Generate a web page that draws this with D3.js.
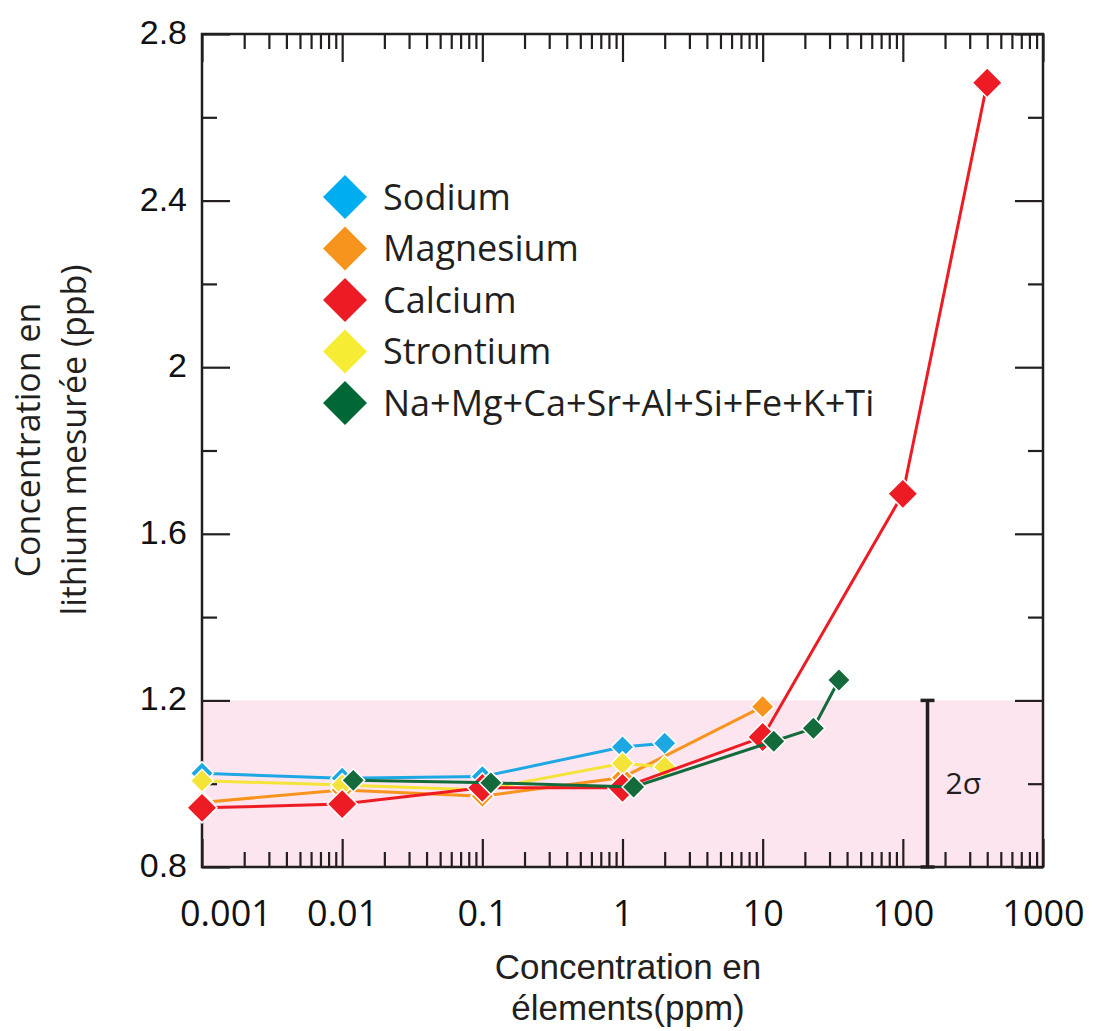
<!DOCTYPE html>
<html><head><meta charset="utf-8">
<script src="https://cdn.jsdelivr.net/npm/d3@7"></script>
<style>body{margin:0;background:#fff}</style></head>
<body><svg id="c" width="1110" height="1031"></svg>
<script>
// ---- data ----
const legendOrder = ["Sodium","Magnesium","Calcium","Strontium","Na+Mg+Ca+Sr+Al+Si+Fe+K+Ti"];
const drawOrder   = ["Sodium","Magnesium","Strontium","Calcium","Na+Mg+Ca+Sr+Al+Si+Fe+K+Ti"];
const sodiumX = [0.001, 0.01, 0.1, 1, 2];
const sodiumY = [1.025, 1.013, 1.017, 1.088, 1.097];
const magnesiumX = [0.001, 0.01, 0.1, 1, 10];
const magnesiumY = [0.955, 0.985, 0.970, 1.015, 1.185];
const calciumX = [0.001, 0.01, 0.1, 1, 10, 100, 400];
const calciumY = [0.942, 0.951, 0.990, 0.990, 1.112, 1.696, 2.683];
const strontiumX = [0.001, 0.01, 0.1, 1, 2];
const strontiumY = [1.007, 0.997, 0.985, 1.049, 1.040];
const mixX = [0.012, 0.115, 1.2, 12, 23, 35];
const mixY = [1.008, 1.002, 0.992, 1.102, 1.133, 1.249];
const colors = {"Sodium":"#1ea8e3","Magnesium":"#f7941d","Calcium":"#ed1c24","Strontium":"#f4e43a","Na+Mg+Ca+Sr+Al+Si+Fe+K+Ti":"#136a3b"};
const legendColors = {"Sodium":"#00aeef","Magnesium":"#f7941d","Calcium":"#ed1c24","Strontium":"#f5ec33","Na+Mg+Ca+Sr+Al+Si+Fe+K+Ti":"#006837"};
const seriesData = {
  "Sodium": [sodiumX, sodiumY],
  "Magnesium": [magnesiumX, magnesiumY],
  "Calcium": [calciumX, calciumY],
  "Strontium": [strontiumX, strontiumY],
  "Na+Mg+Ca+Sr+Al+Si+Fe+K+Ti": [mixX, mixY]
};
const xMajorTicks = [0.001, 0.01, 0.1, 1, 10, 100, 1000];
const xTickLabels = ["0.001","0.01","0.1","1","10","100","1000"];
const yMajorTicks = [0.8, 1.2, 1.6, 2.0, 2.4, 2.8];
const yTickLabels = ["0.8","1.2","1.6","2","2.4","2.8"];
const yMinorTicks = [1.0, 1.4, 1.8, 2.2, 2.6];
const bandRange = [0.8, 1.2];
const errorBar = {x: 150, lo: 0.8, hi: 1.2, label: "2σ"};
const xTitle = ["Concentration en", "élements(ppm)"];
const yTitle = ["Concentration en", "lithium mesurée (ppb)"];

// ---- layout ----
const L = 202, R = 1043, T = 34, B = 867;
const ink = "#231f20";
const svg = d3.select("#c");
const x = d3.scaleLog().domain([0.001, 1000]).range([L, R]);
const y = d3.scaleLinear().domain([0.8, 2.8]).range([B, T]);

const xMinorTicks = [];
for (let d = 0; d < xMajorTicks.length - 1; d++)
  for (let m = 2; m <= 9; m++) xMinorTicks.push(xMajorTicks[d] * m);

// band
svg.append("rect").attr("x", L).attr("y", y(bandRange[1]))
  .attr("width", R - L).attr("height", y(bandRange[0]) - y(bandRange[1]))
  .attr("fill", "#fce5ef");

// axes
function styleAxis(g){
  g.select(".domain").remove();
  g.selectAll(".tick line").attr("stroke", ink).attr("stroke-width", 2.2);
}
const fmtX = d => xTickLabels[xMajorTicks.indexOf(d)];
const fmtY = d => yTickLabels[yMajorTicks.findIndex(v => Math.abs(v - d) < 1e-9)];

const gxb = svg.append("g").attr("transform", `translate(0,${B})`)
  .call(d3.axisBottom(x).tickValues(xMajorTicks).tickSize(-28).tickPadding(33).tickFormat(fmtX));
styleAxis(gxb);
gxb.selectAll("text").attr("font-family","'Open Sans', sans-serif").attr("font-size",36).attr("fill","#111");
gxb.selectAll("text").each(function(){
  const b = this.getBBox();
  const abs = b.x + parseFloat(d3.select(this.parentNode).attr("transform").match(/translate\(([-\d.]+)/)[1]);
  if (abs < 180) d3.select(this).attr("dx", 180 - abs);
});
const gxbm = svg.append("g").attr("transform", `translate(0,${B})`)
  .call(d3.axisBottom(x).tickValues(xMinorTicks).tickSize(-15).tickFormat(""));
styleAxis(gxbm);
const gxt = svg.append("g").attr("transform", `translate(0,${T})`)
  .call(d3.axisTop(x).tickValues(xMajorTicks).tickSize(-28).tickFormat(""));
styleAxis(gxt);
const gxtm = svg.append("g").attr("transform", `translate(0,${T})`)
  .call(d3.axisTop(x).tickValues(xMinorTicks).tickSize(-15).tickFormat(""));
styleAxis(gxtm);

const gyl = svg.append("g").attr("transform", `translate(${L},0)`)
  .call(d3.axisLeft(y).tickValues(yMajorTicks).tickSize(-28).tickPadding(15).tickFormat(fmtY));
styleAxis(gyl);
gyl.selectAll("text").attr("font-family","'Liberation Sans', Arial, sans-serif").attr("font-size",34).attr("fill","#111").attr("dy","0.28em");
const gylm = svg.append("g").attr("transform", `translate(${L},0)`)
  .call(d3.axisLeft(y).tickValues(yMinorTicks).tickSize(-15).tickFormat(""));
styleAxis(gylm);
const gyr = svg.append("g").attr("transform", `translate(${R},0)`)
  .call(d3.axisRight(y).tickValues(yMajorTicks).tickSize(-28).tickFormat(""));
styleAxis(gyr);
const gyrm = svg.append("g").attr("transform", `translate(${R},0)`)
  .call(d3.axisRight(y).tickValues(yMinorTicks).tickSize(-15).tickFormat(""));
styleAxis(gyrm);

// frame
svg.append("rect").attr("x", L).attr("y", T).attr("width", R - L).attr("height", B - T)
  .attr("fill", "none").attr("stroke", ink).attr("stroke-width", 2.5);

// error bar
const ex = x(errorBar.x);
const eg = svg.append("g").attr("stroke", ink).attr("stroke-width", 3.5);
eg.append("line").attr("x1", ex).attr("x2", ex).attr("y1", y(errorBar.lo)).attr("y2", y(errorBar.hi));
eg.append("line").attr("x1", ex - 7).attr("x2", ex + 7).attr("y1", y(errorBar.lo)).attr("y2", y(errorBar.lo));
eg.append("line").attr("x1", ex - 7).attr("x2", ex + 7).attr("y1", y(errorBar.hi)).attr("y2", y(errorBar.hi));
svg.append("text").attr("x", ex + 18).attr("y", y((errorBar.lo + errorBar.hi) / 2) + 10)
  .attr("font-family","'Open Sans', sans-serif").attr("font-size", 30).attr("fill", ink).text(errorBar.label);

// series
const line = d3.line().x(d => x(d[0])).y(d => y(d[1]));
drawOrder.forEach(name => {
  const [xs, ys] = seriesData[name];
  const pts = xs.map((v, i) => [v, ys[i]]);
  const g = svg.append("g");
  g.append("path").datum(pts).attr("d", line).attr("fill", "none")
    .attr("stroke", colors[name]).attr("stroke-width", 3);
  const diag = name === "Calcium" ? 30 : 23;
  const sym = d3.symbol().type(d3.symbolSquare).size(diag * diag / 2);
  g.selectAll("path.m").data(pts).join("path").attr("class", "m")
    .attr("d", sym)
    .attr("transform", d => `translate(${x(d[0])},${y(d[1])}) rotate(45)`)
    .attr("fill", colors[name]).attr("stroke", "#fff").attr("stroke-width", 1.5);
});

// legend
const lg = svg.append("g");
legendOrder.forEach((name, i) => {
  const cy = 197 + i * 51.5;
  lg.append("path").attr("d", d3.symbol().type(d3.symbolSquare).size(44 * 44 / 2))
    .attr("transform", `translate(345,${cy}) rotate(45)`).attr("fill", legendColors[name]);
  lg.append("text").attr("x", 383).attr("y", cy).attr("dy", "0.36em")
    .attr("font-family","'Open Sans', sans-serif").attr("font-size", 36).attr("fill", ink).text(name);
});

// axis titles
xTitle.forEach((t, i) => {
  svg.append("text").attr("text-anchor", "middle").attr("x", 628).attr("y", 979 + i * 41)
    .attr("font-family","'Liberation Sans', Arial, sans-serif").attr("font-size", 35).attr("fill", ink).text(t);
});
const yt = svg.append("text").attr("text-anchor", "middle").attr("transform", "rotate(-90)")
  .attr("font-family","'Open Sans', sans-serif").attr("font-size", 34).attr("fill", ink);
yTitle.forEach((t, i) => {
  yt.append("tspan").attr("x", -440).attr("y", 40 + i * 46).text(t);
});
</script></body></html>
